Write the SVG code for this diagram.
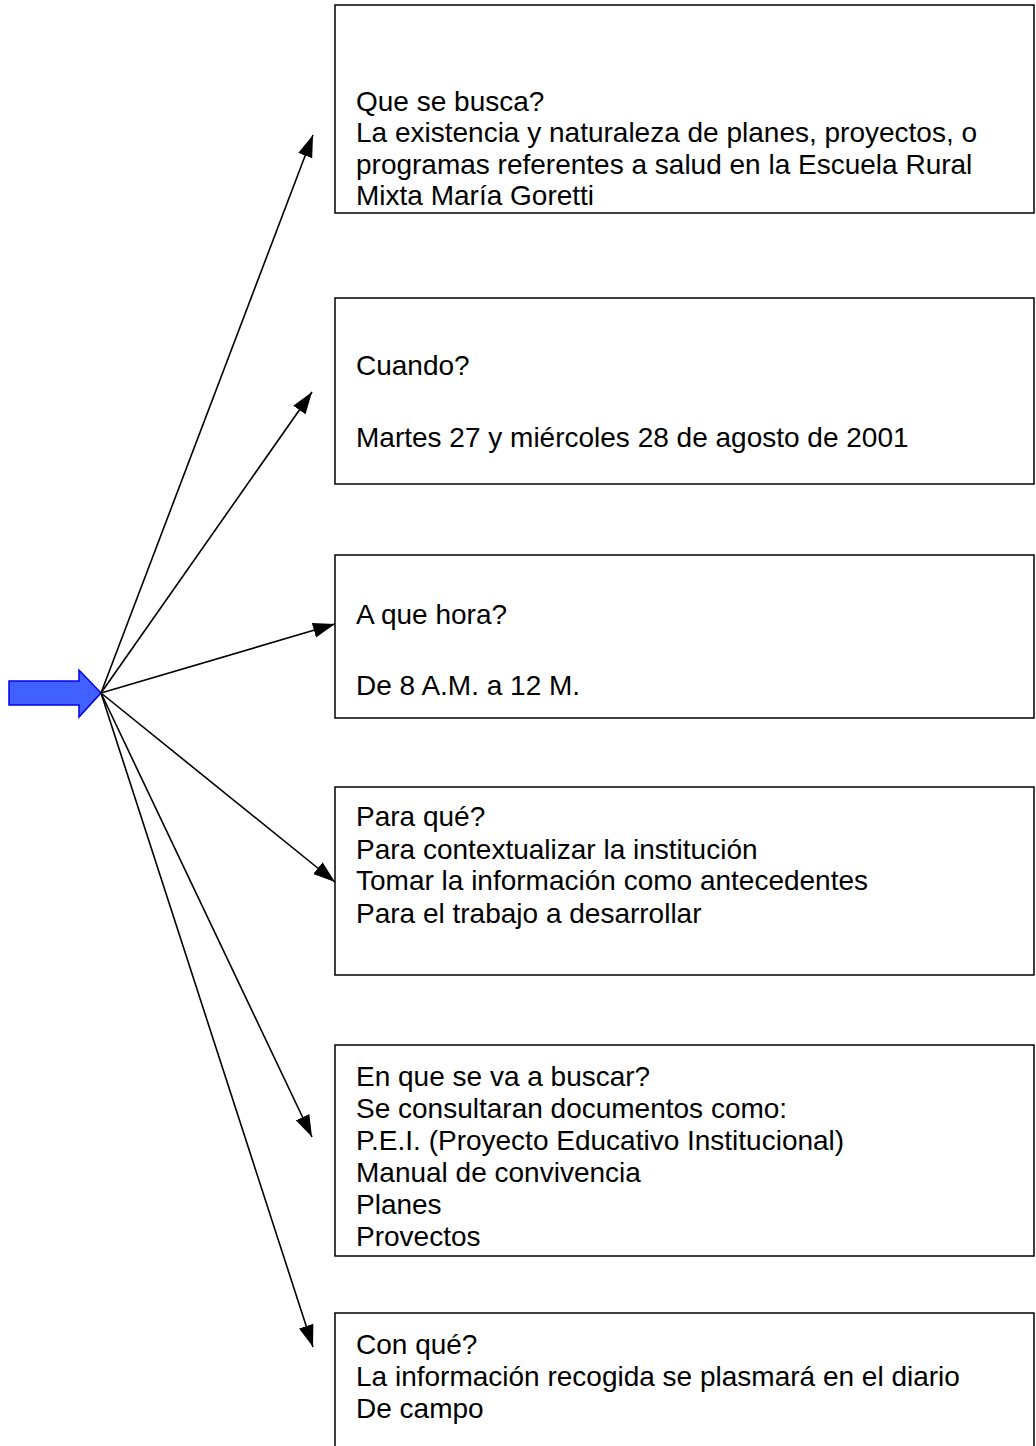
<svg xmlns="http://www.w3.org/2000/svg" width="1036" height="1446" viewBox="0 0 1036 1446">
<style>
.box{fill:#fff;stroke:#000;stroke-width:1.5}
.t{font-family:"Liberation Sans",Arial,sans-serif;font-size:28px;fill:#000}
.c{stroke:#000;stroke-width:1.6;fill:none;marker-end:url(#ah)}
</style>
<defs>
<marker id="ah" markerUnits="userSpaceOnUse" markerWidth="24" markerHeight="18" viewBox="0 0 24 18" refX="22" refY="9" orient="auto">
<path d="M0,1.5 L22,9 L0,16.5 Z" fill="#000"/>
</marker>
</defs>
<rect width="1036" height="1446" fill="#fff"/>
<g id="source">
<polygon points="9,681 79,681 79,670 101,693 79,717 79,705 9,705" fill="#4060ff" stroke="#0000f0" stroke-width="1.5"/>
</g>
<g id="connectors">
<line class="c" x1="101" y1="693" x2="313" y2="135"/>
<line class="c" x1="101" y1="693" x2="312" y2="392"/>
<line class="c" x1="101" y1="693" x2="335" y2="624"/>
<line class="c" x1="101" y1="693" x2="335" y2="882"/>
<line class="c" x1="101" y1="693" x2="312" y2="1137"/>
<line class="c" x1="101" y1="693" x2="313" y2="1347"/>
</g>
<g id="n1">
<rect class="box" x="335" y="5" width="699" height="208"/>
<text class="t" x="356" y="111">Que se busca?</text>
<text class="t" x="356" y="142">La existencia y naturaleza de planes, proyectos, o</text>
<text class="t" x="356" y="174">programas referentes a salud en la Escuela Rural</text>
<text class="t" x="356" y="205">Mixta María Goretti</text>
</g>
<g id="n2">
<rect class="box" x="335" y="298" width="699" height="186"/>
<text class="t" x="356" y="375">Cuando?</text>
<text class="t" x="356" y="447">Martes 27 y miércoles 28 de agosto de 2001</text>
</g>
<g id="n3">
<rect class="box" x="335" y="555" width="699" height="163"/>
<text class="t" x="356" y="624">A que hora?</text>
<text class="t" x="356" y="695">De 8 A.M. a 12 M.</text>
</g>
<g id="n4">
<rect class="box" x="335" y="787" width="699" height="188"/>
<text class="t" x="356" y="826">Para qué?</text>
<text class="t" x="356" y="859">Para contextualizar la institución</text>
<text class="t" x="356" y="890">Tomar la información como antecedentes</text>
<text class="t" x="356" y="923">Para el trabajo a desarrollar</text>
</g>
<g id="n5">
<rect class="box" x="335" y="1045" width="699" height="211"/>
<text class="t" x="356" y="1086">En que se va a buscar?</text>
<text class="t" x="356" y="1118">Se consultaran documentos como:</text>
<text class="t" x="356" y="1150">P.E.I. (Proyecto Educativo Institucional)</text>
<text class="t" x="356" y="1182">Manual de convivencia</text>
<text class="t" x="356" y="1214">Planes</text>
<text class="t" x="356" y="1246">Provectos</text>
</g>
<g id="n6">
<rect class="box" x="335" y="1313" width="699" height="160"/>
<text class="t" x="356" y="1354">Con qué?</text>
<text class="t" x="356" y="1386">La información recogida se plasmará en el diario</text>
<text class="t" x="356" y="1418">De campo</text>
</g>
</svg>
